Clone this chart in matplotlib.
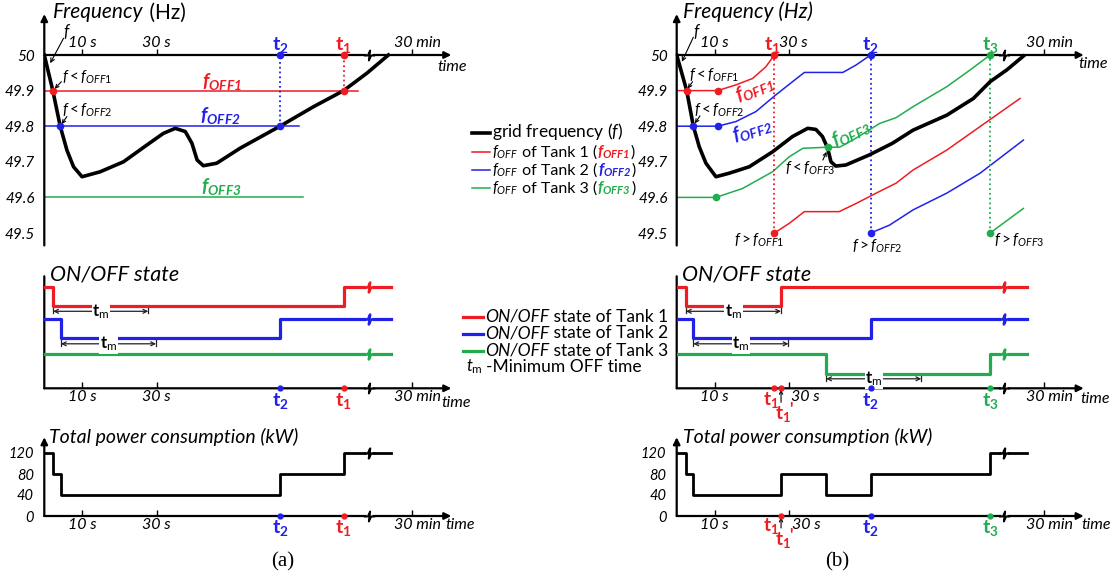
import numpy as np
import matplotlib
matplotlib.use("Agg")
import matplotlib.pyplot as plt
from matplotlib.path import Path
from matplotlib.lines import Line2D

plt.rcParams['font.family'] = ['Lato', 'DejaVu Sans']
plt.rcParams['mathtext.fontset'] = 'custom'
plt.rcParams['mathtext.rm'] = 'Lato'
plt.rcParams['mathtext.it'] = 'Lato:italic'
plt.rcParams['mathtext.bf'] = 'Lato:italic:bold'
plt.rcParams['mathtext.sf'] = 'Lato:bold'

W, H = 1116, 579
RED, BLUE, GREEN = '#ee1d23', '#2121e8', '#21ad4e'
TANK_COLORS = [RED, BLUE, GREEN]

# ---------------- data ----------------
# schematic time positions (seconds-like units; axis broken before "30 min")
x_tick_pos = [10.3, 30.4, 99.3]
x_tick_lab = ['10 s', '30 s', '30 min']
x_max = 110
freq_ticks = [50, 49.9, 49.8, 49.7, 49.6, 49.5]
freq_tick_lab = ['50', '49.9', '49.8', '49.7', '49.6', '49.5']
power_ticks = [0, 40, 80, 120]
power_tick_lab = ['0', '40', '80', '120']
kw_per_tank = 40
tm = 25.7   # minimum OFF time

# ---- case (a): fixed f_OFF ----
a_t1, a_t2 = 80.9, 63.7
a_break = 87.8
a_freq_t = [0, 2.3, 4.3, 6.1, 7.9, 10.2, 15.1, 21.4, 27.7, 32.2, 35.4, 38.1, 39.9,
            41.3, 43.0, 46.6, 52.9, 63.7, 72.8, 80.9, 87.2, 93.0]
a_freq_f = [50.0, 49.9, 49.8, 49.733, 49.686, 49.658, 49.672, 49.700, 49.747, 49.78,
            49.794, 49.785, 49.752, 49.705, 49.689, 49.696, 49.738, 49.8, 49.855,
            49.9, 49.949, 50.0]
a_foff = [49.9, 49.8, 49.6]
a_foff_end = [84.9, 68.9, 69.9]
a_cross_t = [2.3, 4.3]
a_state_t = [[0, 2.4, a_t1, 93.6], [0, 4.5, a_t2, 93.6], [0, 93.6]]
a_state_v = [[1, 0, 1, 1], [1, 0, 1, 1], [1, 1]]
a_tm_start = [2.4, 4.5]

# ---- case (b): adaptive f_OFF ----
b_t1, b_t1p, b_t2, b_t3 = 26.4, 28.2, 52.4, 84.7
b_break = 88.4
b_freq_t = [0, 2.7, 4.5, 6.1, 7.9, 10.6, 14.2, 19.6, 25.9, 31.3, 35.4, 37.6, 39.4, 40.8,
            41.7, 43.0, 45.7, 52.0, 58.3, 63.9, 73.0, 80.2, 84.7, 89.2, 93.7]
b_freq_f = [50.0, 49.9, 49.8, 49.742, 49.696, 49.658, 49.668, 49.686, 49.728, 49.771,
            49.794, 49.791, 49.771, 49.738, 49.700, 49.688, 49.691, 49.719, 49.752,
            49.789, 49.831, 49.878, 49.925, 49.958, 49.997]
b_off1_t = [[0, 11.1, 16.0, 20.5, 24.1, 26.4],
            [26.4, 30.4, 34.5, 43.9, 48.5, 53.9, 59.3, 63.9, 73.0, 82.0, 92.8]]
b_off1_f = [[49.9, 49.9, 49.916, 49.934, 49.967, 50.0],
            [49.5, 49.527, 49.56, 49.56, 49.583, 49.612, 49.64, 49.677, 49.733, 49.799, 49.878]]
b_off2_t = [[0, 11.1, 16.0, 21.4, 26.8, 31.3, 34.5, 44.9, 48.5, 52.4],
            [52.4, 57.5, 63.9, 73.0, 82.0, 93.7]]
b_off2_f = [[49.8, 49.8, 49.813, 49.841, 49.888, 49.925, 49.951, 49.951, 49.972, 50.0],
            [49.5, 49.522, 49.565, 49.612, 49.668, 49.761]]
b_off3_t = [[0, 10.6, 17.8, 25.9, 30.4, 34.1, 40.8, 44.0, 47.6, 54.9, 59.3, 63.9, 73.0, 79.3, 84.7],
            [84.7, 93.7]]
b_off3_f = [[49.6, 49.6, 49.625, 49.672, 49.714, 49.738, 49.741, 49.741, 49.761, 49.808,
             49.824, 49.855, 49.911, 49.958, 50.0],
            [49.5, 49.569]]
b_dots_t = [[2.7, 11.1, b_t1, b_t1], [4.5, 11.1, b_t2, b_t2], [10.6, 40.8, b_t3, b_t3]]
b_dots_f = [[49.9, 49.9, 50.0, 49.5], [49.8, 49.8, 50.0, 49.5], [49.6, 49.741, 50.0, 49.5]]
b_state_t = [[0, 2.5, b_t1p, 94.6], [0, 4.5, b_t2, 94.6], [0, 40.4, b_t3, 94.6]]
b_state_v = [[1, 0, 1, 1], [1, 0, 1, 1], [1, 0, 1, 1]]
b_tm_start = [2.5, 4.5, 40.4]

# ---------------- layout helpers ----------------
PX_PER_T = 3.7
AX_W = x_max * PX_PER_T
LEFT = {'a': 44.3, 'b': 676.7}
STATE_BASE = [82, 50, 14.5]
STATE_AMP = 19.5
TM_Y = [77, 44.5, 9.5]
TICK_FS = 11.5
LEG_FS = 12.5
ANN_FS = 11

fig = plt.figure(figsize=(W / 100, H / 100), dpi=100)
renderer = fig.canvas.get_renderer()


def px_rect(x0, y_top, w, h):
    return [x0 / W, 1 - (y_top + h) / H, w / W, h / H]


ZIG = Path([(-1, 0), (-0.3, 0), (0.12, 0.9), (-0.12, -0.9), (0.3, 0), (1, 0)])


def add_break(ax, x, y, color, lw):
    ax.plot([x], [y], marker='s', ms=4.5, mfc='white', mec='none', zorder=7, clip_on=False)
    ax.plot([x], [y], marker=ZIG, ms=8, mfc='none', mec=color, mew=lw, zorder=8, clip_on=False)


def base_axes(rect, ylim, x_axis_y, y_arrow, brk):
    ax = fig.add_axes(rect)
    ax.set_xlim(0, x_max)
    ax.set_ylim(*ylim)
    for s in ax.spines.values():
        s.set_visible(False)
    ax.set_xticks([])
    ax.set_yticks([])
    ax.patch.set_alpha(0)
    kw = dict(color='k', lw=1.6, shrinkA=0, shrinkB=0)
    ax.annotate('', xy=(0, ylim[1]), xytext=(0, ylim[0]), annotation_clip=False,
                arrowprops=dict(arrowstyle='-|>' if y_arrow else '-', mutation_scale=10, **kw))
    ax.annotate('', xy=(x_max, x_axis_y), xytext=(0, x_axis_y), annotation_clip=False,
                arrowprops=dict(arrowstyle='-|>', mutation_scale=10, **kw))
    ax.plot(x_tick_pos, [x_axis_y] * len(x_tick_pos), ls='none', marker=2, ms=4,
            mew=1.0, color='k', clip_on=False)
    add_break(ax, brk, x_axis_y, 'k', 1.4)
    return ax


def lab(ax, x, y, s, dy, dx=0, **kw):
    kw.setdefault('ha', 'center')
    kw.setdefault('va', 'center')
    ax.annotate(s, (x, y), xytext=(dx, dy), textcoords='offset pixels',
                annotation_clip=False, **kw)


def seq_text(x_px, y_base_px, pieces, **common):
    x = x_px
    for s, kw in pieces:
        t = fig.text(x / W, 1 - y_base_px / H, s, va='baseline', ha='left', **{**common, **kw})
        x += t.get_window_extent(renderer).width


def time_labels(ax, y0, dy, pos30s=None, pos30min=None, time_x=111.5, time_dy=None):
    p = list(x_tick_pos)
    if pos30s is not None:
        p[1] = pos30s
    p[2] = pos30min if pos30min is not None else p[2] + 1.5
    for x, s in zip(p, x_tick_lab):
        lab(ax, x, y0, s, dy, fontsize=TICK_FS, style='italic')
    lab(ax, time_x, y0, 'time', dy if time_dy is None else time_dy, fontsize=TICK_FS,
        style='italic')


def event_label(ax, x, y0, s, color, dy, fs=14):
    lab(ax, x, y0, s, dy, color=color, fontsize=fs)


def prime_label(ax, x, y0, color, dy):
    """t1' label: t_1 with a prime."""
    lab(ax, x, y0, r'$\mathsf{t_1}$', dy, color=color, fontsize=13.5)
    lab(ax, x, y0, "'", dy + 5, dx=8, color=color, fontsize=12, fontweight='bold')


def ytick_style(ax, ticks, labels, pad, size):
    ax.set_yticks(ticks, labels=labels)
    ax.tick_params(axis='y', length=0, pad=pad, labelsize=size)
    for l in ax.get_yticklabels():
        l.set_fontstyle('italic')


def total_power(state_t, state_v):
    ts = sorted(set(t for tt in state_t for t in tt))
    p = []
    for t in ts:
        s = 0
        for tt, vv in zip(state_t, state_v):
            idx = np.searchsorted(tt, t, side='right') - 1
            s += vv[idx]
        p.append(kw_per_tank * s)
    return ts, p


def small_arrow(ax, xy, xytext, ms=6):
    ax.annotate('', xy=xy, xytext=xytext,
                arrowprops=dict(arrowstyle='->', lw=0.8, color='k', mutation_scale=ms,
                                shrinkA=0, shrinkB=0))


def draw_states(ax, st_t, st_v, tm_start, brk):
    for i in range(3):
        y = STATE_BASE[i] + STATE_AMP * np.array(st_v[i])
        ax.step(st_t[i], y, where='post', color=TANK_COLORS[i], lw=2.3, zorder=4)
        add_break(ax, brk, y[-1], TANK_COLORS[i], 1.8)
    for i, t0 in enumerate(tm_start):
        ya = TM_Y[i]
        off = STATE_BASE[i]
        ax.annotate('', xy=(t0 + tm, ya), xytext=(t0, ya),
                    arrowprops=dict(arrowstyle='<->', lw=0.9, color='#222222',
                                    mutation_scale=7, shrinkA=0, shrinkB=0))
        for xe in (t0, t0 + tm):
            ax.plot([xe, xe], [ya - 2, off], color='#222222', lw=0.9, zorder=3)
        ax.text(t0 + tm / 2, ya, r'$\mathsf{t}_\mathrm{m}$', fontsize=12, ha='center',
                va='center', bbox=dict(fc='white', ec='none', pad=0.4), zorder=5)


# ================= (a) frequency =================
FREQ_YLIM = (49.465, 50.115)
FREQ_TOP = 55 - (FREQ_YLIM[1] - 50) * 356
FREQ_H = (FREQ_YLIM[1] - FREQ_YLIM[0]) * 356

ax = base_axes(px_rect(LEFT['a'], FREQ_TOP, AX_W, FREQ_H), FREQ_YLIM, 50, True, a_break)
ytick_style(ax, freq_ticks, freq_tick_lab, 6.5, 11)
for f, end, c in zip(a_foff, a_foff_end, TANK_COLORS):
    ax.plot([0, end], [f, f], color=c, lw=1.1, zorder=2)
ax.plot(a_freq_t, a_freq_f, color='k', lw=2.6, zorder=4)
ax.plot([a_t1, a_t1], [a_foff[0], 50], ':', color=RED, lw=1.3, zorder=3)
ax.plot([a_t2, a_t2], [a_foff[1], 50], ':', color=BLUE, lw=1.3, zorder=3)
ax.plot([a_cross_t[0], a_t1, a_t1], [a_foff[0], a_foff[0], 50], 'o', color=RED, ms=4.5, zorder=6)
ax.plot([a_cross_t[1], a_t2, a_t2], [a_foff[1], a_foff[1], 50], 'o', color=BLUE, ms=4.5, zorder=6)
for (x, y), s, c in zip([(47.9, 49.925), (47.5, 49.829), (47.9, 49.63)],
                        [r'$\mathbf{f_{OFF1}}$', r'$\mathbf{f_{OFF2}}$', r'$\mathbf{f_{OFF3}}$'],
                        TANK_COLORS):
    ax.text(x, y, s, color=c, fontsize=14, ha='center', va='center')
ax.text(6.1, 50.065, '$f$', fontsize=12, ha='center', va='center')
small_arrow(ax, (1.6, 49.977), (5.2, 50.047), 7)
ax.text(11.6, 49.937, r'$f<f_{OFF1}$', fontsize=ANN_FS, ha='center', va='center')
small_arrow(ax, (2.8, 49.905), (4.6, 49.925))
ax.text(11.6, 49.846, r'$f<f_{OFF2}$', fontsize=ANN_FS, ha='center', va='center')
small_arrow(ax, (4.7, 49.806), (6.1, 49.827))
time_labels(ax, 50, 12, time_x=110.3, time_dy=-12)
event_label(ax, a_t2, 50, r'$\mathsf{t_2}$', BLUE, 10)
event_label(ax, a_t1, 50, r'$\mathsf{t_1}$', RED, 10)

# ================= (b) frequency =================
ax = base_axes(px_rect(LEFT['b'], FREQ_TOP, AX_W, FREQ_H), FREQ_YLIM, 50, True, b_break)
ytick_style(ax, freq_ticks, freq_tick_lab, 6.5, 11)
for ts, fs, c in zip([b_off1_t, b_off2_t, b_off3_t], [b_off1_f, b_off2_f, b_off3_f], TANK_COLORS):
    for t_seg, f_seg in zip(ts, fs):
        ax.plot(t_seg, f_seg, color=c, lw=1.1, zorder=2)
ax.plot(b_freq_t, b_freq_f, color='k', lw=2.6, zorder=4)
for x, c in zip([b_t1, b_t2, b_t3], TANK_COLORS):
    ax.plot([x, x], [49.5, 50], ':', color=c, lw=1.3, zorder=3)
for dt, df, c in zip(b_dots_t, b_dots_f, TANK_COLORS):
    ax.plot(dt, df, 'o', color=c, ms=4.5, zorder=6)
for (x, y), s, c, r in zip([(21.0, 49.905), (20.4, 49.79), (47.1, 49.78)],
                           [r'$\mathbf{f_{OFF1}}$', r'$\mathbf{f_{OFF2}}$', r'$\mathbf{f_{OFF3}}$'],
                           TANK_COLORS, [22, 18, 25]):
    ax.text(x, y, s, color=c, fontsize=14, ha='center', va='center', rotation=r,
            rotation_mode='anchor')
ax.text(5.4, 50.065, '$f$', fontsize=12, ha='center', va='center')
small_arrow(ax, (1.4, 49.981), (4.5, 50.05), 7)
ax.text(10.0, 49.944, r'$f<f_{OFF1}$', fontsize=ANN_FS, ha='center', va='center')
small_arrow(ax, (3.0, 49.906), (4.3, 49.925))
ax.text(11.5, 49.845, r'$f<f_{OFF2}$', fontsize=ANN_FS, ha='center', va='center')
small_arrow(ax, (4.9, 49.808), (6.3, 49.829))
ax.text(36.0, 49.682, r'$f<f_{OFF3}$', fontsize=ANN_FS, ha='center', va='center')
small_arrow(ax, (40.5, 49.728), (39.5, 49.705))
ax.text(22.2, 49.48, r'$f>f_{OFF1}$', fontsize=ANN_FS, ha='center', va='center')
ax.text(54.3, 49.462, r'$f>f_{OFF2}$', fontsize=ANN_FS, ha='center', va='center')
ax.text(92.5, 49.48, r'$f>f_{OFF3}$', fontsize=ANN_FS, ha='center', va='center')
time_labels(ax, 50, 12, pos30s=31.6, time_x=112.6, time_dy=-9)
event_label(ax, b_t1 - 0.6, 50, r'$\mathsf{t_1}$', RED, 10)
event_label(ax, b_t2, 50, r'$\mathsf{t_2}$', BLUE, 10)
event_label(ax, b_t3, 50, r'$\mathsf{t_3}$', GREEN, 10)

# ================= ON/OFF states =================
ST_YLIM = (0, 112)
for key, st_t, st_v, tms, brk in [('a', a_state_t, a_state_v, a_tm_start, a_break),
                                  ('b', b_state_t, b_state_v, b_tm_start, b_break)]:
    ax = base_axes(px_rect(LEFT[key], 388.3 - 112, AX_W, 112), ST_YLIM, 0, False, brk)
    draw_states(ax, st_t, st_v, tms, brk)
    if key == 'a':
        time_labels(ax, 0, -9, time_x=111.3, time_dy=-15)
        ax.plot([a_t2], [0], 'o', color=BLUE, ms=3.5, clip_on=False, zorder=9)
        ax.plot([a_t1], [0], 'o', color=RED, ms=3.5, clip_on=False, zorder=9)
        event_label(ax, a_t2, 0, r'$\mathsf{t_2}$', BLUE, -13)
        event_label(ax, a_t1, 0, r'$\mathsf{t_1}$', RED, -13)
    else:
        time_labels(ax, 0, -9, pos30s=34.8, time_x=113.2, time_dy=-11)
        for x, c in zip([b_t1, b_t1p, b_t2, b_t3], [RED, RED, BLUE, GREEN]):
            ax.plot([x], [0], 'o', color=c, ms=3.5, clip_on=False, zorder=9)
        event_label(ax, b_t1 - 1.0, 0, r'$\mathsf{t_1}$', RED, -12, fs=13.5)
        ax.annotate('', xy=(b_t1p, 0), xytext=(0, -14), textcoords='offset pixels',
                    xycoords='data', annotation_clip=False,
                    arrowprops=dict(arrowstyle='->', lw=0.8, color='k', mutation_scale=6,
                                    shrinkA=0, shrinkB=1))
        prime_label(ax, b_t1p + 0.6, 0, RED, -26)
        event_label(ax, b_t2, 0, r'$\mathsf{t_2}$', BLUE, -13)
        event_label(ax, b_t3, 0, r'$\mathsf{t_3}$', GREEN, -13)

# ================= total power =================
PW_YLIM = (0, 150)
PW_H = 150 * 0.525
for key, st_t, st_v, brk in [('a', a_state_t, a_state_v, a_break),
                             ('b', b_state_t, b_state_v, b_break)]:
    ax = base_axes(px_rect(LEFT[key], 516 - PW_H, AX_W, PW_H), PW_YLIM, 0, True, brk)
    ytick_style(ax, power_ticks, power_tick_lab, 7.5, 10.5)
    ts, p = total_power(st_t, st_v)
    ax.step(ts, p, where='post', color='k', lw=2.0, zorder=4)
    add_break(ax, brk, p[-1], 'k', 1.6)
    if key == 'a':
        time_labels(ax, 0, -9, time_x=112.4, time_dy=-9)
        ax.plot([a_t2], [0], 'o', color=BLUE, ms=3.5, clip_on=False, zorder=9)
        ax.plot([a_t1], [0], 'o', color=RED, ms=3.5, clip_on=False, zorder=9)
        event_label(ax, a_t2, 0, r'$\mathsf{t_2}$', BLUE, -12)
        event_label(ax, a_t1, 0, r'$\mathsf{t_1}$', RED, -12)
    else:
        time_labels(ax, 0, -9, pos30s=35.0, time_x=113.5, time_dy=-9)
        for x, c in zip([b_t1p, b_t2, b_t3], [RED, BLUE, GREEN]):
            ax.plot([x], [0], 'o', color=c, ms=3.5, clip_on=False, zorder=9)
        event_label(ax, b_t1 - 1.0, 0, r'$\mathsf{t_1}$', RED, -10, fs=13.5)
        ax.annotate('', xy=(b_t1p, 0), xytext=(0, -12), textcoords='offset pixels',
                    xycoords='data', annotation_clip=False,
                    arrowprops=dict(arrowstyle='->', lw=0.8, color='k', mutation_scale=6,
                                    shrinkA=0, shrinkB=1))
        prime_label(ax, b_t1p + 0.6, 0, RED, -24)
        event_label(ax, b_t2, 0, r'$\mathsf{t_2}$', BLUE, -12)
        event_label(ax, b_t3, 0, r'$\mathsf{t_3}$', GREEN, -12)

# ================= titles =================
seq_text(53, 18.5, [('Frequency', dict(style='italic')), (' (Hz)', {})], fontsize=15)
seq_text(683, 18.5, [('Frequency (Hz)', dict(style='italic'))], fontsize=15)
for x0 in (50, 682):
    seq_text(x0, 280.7, [('ON/OFF state', dict(style='italic'))], fontsize=15.5)
for x0 in (49, 683):
    seq_text(x0, 443.3, [('Total power consumption (kW)', dict(style='italic'))], fontsize=14)

# ================= legends =================
leg1_y = [133, 152, 170, 188]
fig.add_artist(Line2D([472 / W, 490 / W], [1 - leg1_y[0] / H] * 2, color='k', lw=2.6))
seq_text(492, leg1_y[0] + 4.5, [('grid frequency ($f$)', {})], fontsize=LEG_FS)
for i, c in enumerate(TANK_COLORS):
    y = leg1_y[i + 1]
    fig.add_artist(Line2D([472 / W, 490 / W], [1 - y / H] * 2, color=c, lw=1.1))
    seq_text(492, y + 4.5, [(r'$f_{OFF}$', dict(fontsize=11)),
                            (' of Tank %d (' % (i + 1), {}),
                            (r'$\mathbf{f_{OFF%d}}$' % (i + 1), dict(color=c, fontsize=11.5)),
                            (')', {})],
             fontsize=11.5)

leg2_y = [317, 334, 351, 367]
for i, c in enumerate(TANK_COLORS):
    y = leg2_y[i]
    fig.add_artist(Line2D([463 / W, 483 / W], [1 - y / H] * 2, color=c, lw=2.3))
    seq_text(485, y + 4.5, [('ON/OFF', dict(style='italic')), (' state of Tank %d' % (i + 1), {})],
             fontsize=LEG_FS)
seq_text(466, leg2_y[3] + 4.5, [(r'$t_\mathrm{m}$', {})], fontsize=12)
seq_text(486, leg2_y[3] + 4.5, [('-Minimum OFF time', {})], fontsize=LEG_FS)

fig.text(283 / W, 1 - 562 / H, '(a)', family='Liberation Serif', fontsize=15, ha='center', va='center')
fig.text(837 / W, 1 - 562 / H, '(b)', family='Liberation Serif', fontsize=15, ha='center', va='center')

fig.savefig('out.png', dpi=100)
